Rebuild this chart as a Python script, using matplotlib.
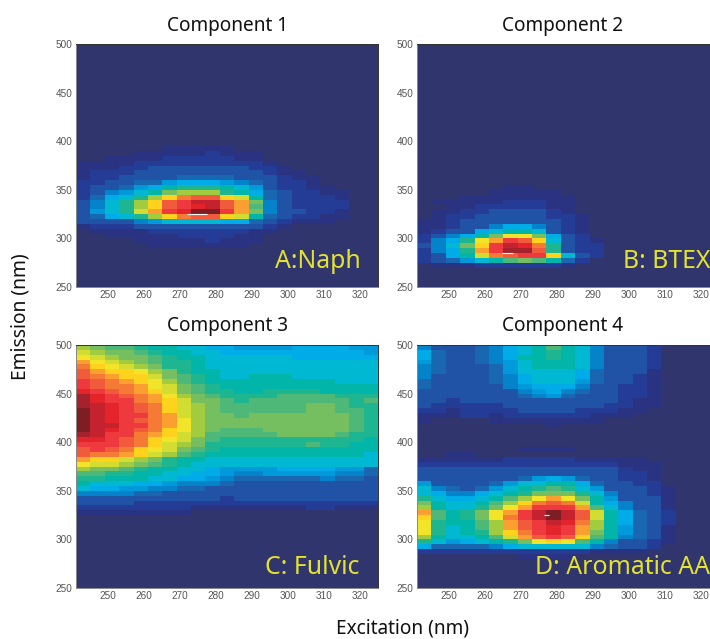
import numpy as np
import matplotlib
matplotlib.use('Agg')
import matplotlib.pyplot as plt
from matplotlib.colors import LinearSegmentedColormap

W = 710
H = 639

# colour levels, lowest to highest
level_colors = ['#30356e', '#2a3382', '#243c96', '#2052a6', '#1a68b2', '#0482ca', '#009ada',
                '#00ade8', '#00b8d2', '#00b6aa', '#1fb590', '#4eb878', '#74be62', '#a3cc40',
                '#d2dc30', '#f0e52a', '#ffd21e', '#fba030', '#f47c36', '#f15a3a', '#ee3a40',
                '#e6242a', '#c4222e', '#a5222c', '#7f1d25']

ex_edges = np.arange(241, 326, 4)
em_edges = np.arange(250, 501, 5)
ticks_x = [250, 260, 270, 280, 290, 300, 310, 320]
ticks_y = [250, 300, 350, 400, 450, 500]

# each list of rows starts at the emission given, rows run upwards, missing cells are background
comp1_start = 290
comp1 = [
    [0, 0, 0, 0, 0, 1, 1, 1, 1, 1, 1, 1],
    [0, 0, 0, 0, 1, 1, 1, 1, 1, 2, 1, 1, 1],
    [0, 0, 1, 1, 1, 1, 1, 2, 2, 2, 2, 1, 1],
    [0, 1, 1, 1, 1, 2, 2, 2, 2, 2, 2, 2, 1, 1],
    [1, 2, 2, 2, 3, 3, 3, 3, 3, 3, 3, 3, 3, 2, 1],
    [3, 3, 3, 3, 5, 6, 8, 8, 8, 8, 7, 7, 4, 3, 2, 1, 1, 1],
    [3, 4, 7, 8, 10, 13, 16, 18, 19, 19, 16, 14, 9, 4, 3, 2, 2, 1, 1],
    [3, 6, 8, 10, 14, 17, 20, 21, 24, 24, 20, 17, 12, 5, 3, 3, 2, 2, 1],
    [3, 5, 8, 10, 13, 16, 19, 20, 21, 22, 19, 17, 11, 5, 3, 2, 2, 2, 2],
    [3, 5, 8, 10, 13, 16, 19, 20, 22, 22, 19, 17, 12, 5, 3, 2, 2, 2, 2],
    [2, 4, 7, 8, 10, 13, 16, 18, 19, 19, 16, 14, 9, 4, 3, 2, 2, 2, 1],
    [2, 3, 5, 6, 8, 9, 12, 13, 13, 13, 10, 9, 7, 4, 3, 2, 2, 1, 1],
    [2, 3, 3, 4, 6, 7, 9, 10, 10, 10, 9, 8, 6, 3, 2, 2, 1, 1],
    [2, 2, 3, 3, 4, 4, 6, 7, 7, 7, 6, 5, 4, 3, 2, 2, 1],
    [1, 2, 2, 3, 3, 3, 3, 4, 4, 4, 4, 3, 3, 3, 2, 1, 1],
    [1, 2, 2, 2, 3, 3, 3, 3, 3, 3, 3, 3, 3, 2, 1, 1],
    [1, 1, 1, 2, 2, 3, 3, 3, 3, 3, 3, 3, 2, 2, 1],
    [1, 1, 1, 1, 2, 2, 2, 2, 2, 2, 2, 2, 2, 1],
    [0, 0, 1, 1, 1, 1, 2, 2, 2, 2, 2, 1, 1],
    [0, 0, 0, 0, 1, 1, 1, 1, 1, 2, 1, 1, 1],
    [0, 0, 0, 0, 0, 0, 1, 1, 1, 1, 1],
]

comp2_start = 270
comp2 = [
    [0, 1, 1, 1, 2, 2, 2, 2, 2, 2, 1],
    [2, 3, 4, 6, 8, 9, 11, 12, 11, 9, 4, 2],
    [2, 3, 7, 9, 14, 18, 19, 20, 20, 16, 8, 3, 2],
    [2, 5, 7, 10, 17, 20, 23, 23, 19, 10, 3, 2, 2],
    [3, 5, 8, 12, 16, 20, 22, 21, 18, 10, 3, 2, 2],
    [2, 5, 7, 10, 15, 17, 20, 19, 16, 8, 3, 2, 1],
    [2, 3, 5, 7, 9, 12, 15, 15, 12, 7, 3, 2],
    [1, 2, 3, 3, 7, 8, 9, 9, 8, 3, 2, 1],
    [1, 1, 2, 3, 3, 5, 7, 7, 5, 3, 2, 1],
    [1, 1, 2, 3, 3, 3, 3, 3, 3, 3, 2, 1],
    [0, 1, 2, 2, 3, 3, 3, 3, 3, 2, 2, 1],
    [0, 1, 1, 2, 2, 3, 3, 3, 3, 2, 1],
    [0, 0, 1, 1, 2, 2, 2, 2, 2, 1, 1],
    [0, 1, 1, 1, 1, 1, 2, 2, 2, 1, 1],
    [0, 0, 0, 1, 1, 1, 1, 1, 1, 1, 1],
    [0, 0, 0, 0, 0, 1, 1, 1, 1, 1],
    [0, 0, 0, 0, 0, 0, 1, 1],
]

comp3_start = 325
comp3 = [
    [1, 1, 1, 1, 1, 1, 1, 1],
    [2, 2, 2, 2, 2, 2, 2, 2, 1, 1, 1, 1, 1, 1, 1, 1, 2, 2, 1, 1, 1],
    [3, 3, 3, 3, 2, 2, 2, 2, 2, 2, 2, 2, 2, 2, 2, 2, 2, 2, 2, 2, 2],
    [3, 3, 3, 3, 3, 3, 3, 3, 3, 3, 2, 3, 3, 3, 3, 3, 3, 3, 3, 3, 3],
    [5, 5, 5, 5, 4, 4, 3, 3, 3, 3, 3, 3, 3, 3, 3, 3, 3, 3, 3, 3, 3],
    [8, 7, 7, 6, 6, 5, 5, 4, 4, 3, 3, 3, 3, 3, 3, 3, 3, 3, 3, 3, 3],
    [9, 8, 8, 8, 7, 7, 6, 5, 5, 5, 4, 3, 3, 3, 3, 3, 3, 3, 3, 3, 3],
    [10, 10, 9, 9, 9, 8, 8, 7, 7, 6, 5, 4, 4, 4, 4, 4, 4, 5, 4, 4, 3],
    [11, 11, 10, 10, 9, 9, 8, 8, 7, 7, 6, 5, 5, 6, 6, 6, 6, 6, 5, 5, 4],
    [13, 12, 12, 11, 10, 9, 9, 8, 8, 7, 6, 6, 6, 6, 7, 7, 7, 7, 6, 6, 4],
    [15, 14, 14, 13, 12, 11, 10, 9, 8, 8, 8, 8, 8, 8, 8, 8, 8, 8, 8, 8, 8],
    [17, 16, 16, 14, 13, 12, 10, 9, 9, 8, 8, 8, 8, 8, 8, 8, 8, 8, 8, 8, 8],
    [19, 18, 18, 17, 16, 14, 13, 11, 10, 9, 9, 9, 9, 9, 9, 9, 9, 9, 9, 9, 8],
    [19, 20, 19, 18, 16, 15, 14, 12, 11, 10, 9, 9, 9, 9, 9, 9, 9, 9, 9, 9, 9],
    [20, 20, 20, 19, 18, 16, 14, 13, 12, 10, 10, 10, 10, 10, 10, 10, 11, 10, 10, 9, 9],
    [21, 21, 20, 19, 18, 16, 15, 14, 12, 11, 10, 10, 10, 10, 10, 10, 10, 10, 10, 10, 9],
    [23, 22, 20, 20, 18, 17, 16, 14, 13, 11, 11, 11, 11, 11, 12, 12, 12, 12, 11, 10, 10],
    [24, 22, 21, 20, 19, 18, 16, 15, 13, 12, 11, 11, 11, 12, 12, 12, 12, 12, 12, 11, 10],
    [24, 22, 22, 20, 20, 18, 17, 15, 13, 12, 12, 12, 12, 12, 12, 12, 12, 12, 12, 11, 10],
    [24, 22, 21, 20, 19, 18, 17, 15, 13, 12, 12, 12, 12, 12, 12, 12, 12, 12, 12, 11, 10],
    [24, 22, 21, 20, 20, 18, 17, 14, 13, 12, 12, 11, 12, 12, 12, 12, 12, 12, 12, 11, 10],
    [24, 22, 21, 20, 19, 18, 16, 14, 13, 12, 11, 11, 11, 11, 11, 11, 12, 12, 11, 11, 10],
    [23, 22, 21, 20, 19, 18, 16, 14, 13, 12, 11, 11, 11, 11, 11, 11, 12, 12, 11, 10, 10],
    [23, 21, 20, 20, 18, 17, 16, 14, 12, 12, 11, 10, 11, 11, 11, 11, 11, 11, 11, 10, 11],
    [23, 21, 20, 19, 18, 17, 15, 13, 12, 11, 10, 10, 10, 10, 11, 11, 11, 11, 10, 10, 10],
    [21, 20, 19, 18, 17, 16, 14, 12, 11, 10, 10, 9, 9, 10, 10, 10, 10, 9, 9, 9, 9],
    [20, 19, 18, 18, 17, 15, 14, 12, 11, 10, 9, 9, 9, 9, 9, 9, 9, 9, 9, 9, 9],
    [20, 19, 18, 17, 16, 15, 13, 11, 10, 9, 9, 9, 9, 9, 9, 9, 9, 9, 8, 8, 8],
    [19, 18, 17, 16, 16, 14, 12, 11, 10, 9, 8, 8, 9, 9, 9, 8, 8, 8, 8, 8, 8],
    [19, 17, 16, 16, 15, 13, 12, 10, 9, 9, 8, 8, 8, 8, 8, 8, 8, 8, 8, 8, 8],
    [18, 16, 15, 14, 13, 12, 10, 10, 9, 8, 8, 8, 8, 8, 8, 8, 8, 8, 8, 8, 8],
    [17, 15, 14, 13, 12, 11, 10, 10, 9, 8, 8, 8, 8, 8, 8, 8, 8, 8, 8, 8, 8],
    [15, 14, 13, 12, 12, 11, 10, 9, 9, 8, 8, 8, 8, 8, 8, 7, 7, 7, 7, 7, 7],
    [14, 13, 12, 12, 11, 10, 9, 9, 8, 8, 7, 7, 7, 7, 7, 7, 7, 7, 7, 7, 6],
    [13, 12, 11, 11, 10, 9, 9, 8, 8, 7, 7, 6, 6, 6, 6, 7, 7, 7, 7, 6, 6],
]

comp4_start = 280
comp4 = [
    [0, 0, 0, 0, 0, 0, 0, 1, 1, 1, 1],
    [2, 2, 2, 2, 2, 2, 2, 2, 2, 2, 2, 2, 1, 1, 1, 1],
    [7, 4, 4, 4, 4, 5, 7, 8, 8, 8, 8, 8, 5, 4, 3, 3, 2],
    [10, 8, 6, 7, 8, 9, 10, 12, 15, 16, 15, 11, 9, 5, 3, 3, 2, 1],
    [13, 9, 8, 8, 9, 11, 14, 17, 19, 20, 19, 16, 11, 9, 5, 4, 3, 1],
    [15, 10, 8, 9, 10, 13, 16, 18, 20, 21, 20, 17, 12, 9, 6, 4, 3, 1],
    [15, 10, 8, 9, 11, 13, 17, 19, 20, 21, 20, 17, 13, 9, 6, 4, 3, 1],
    [15, 10, 9, 9, 11, 13, 17, 19, 20, 22, 21, 18, 13, 9, 7, 4, 3, 2],
    [16, 11, 9, 10, 12, 15, 18, 20, 22, 24, 22, 19, 14, 9, 7, 4, 3, 2],
    [17, 11, 9, 10, 12, 15, 17, 20, 22, 24, 22, 19, 14, 9, 7, 4, 3, 2],
    [13, 9, 8, 8, 10, 12, 15, 17, 20, 20, 20, 17, 11, 8, 5, 3, 3, 1],
    [12, 9, 8, 8, 9, 11, 13, 16, 18, 19, 18, 14, 9, 7, 5, 3, 3, 1],
    [10, 8, 7, 7, 8, 9, 11, 13, 15, 17, 15, 12, 9, 6, 3, 3, 3, 1],
    [8, 7, 5, 5, 7, 8, 9, 10, 12, 12, 12, 10, 8, 5, 3, 3, 2, 1],
    [8, 5, 4, 3, 4, 6, 8, 9, 10, 11, 10, 8, 6, 3, 3, 3, 2, 1],
    [6, 3, 3, 3, 3, 4, 6, 8, 8, 9, 9, 7, 4, 3, 3, 2, 2],
    [3, 3, 3, 3, 3, 3, 3, 4, 6, 7, 6, 4, 3, 3, 2, 2, 1],
    [3, 3, 3, 3, 3, 3, 3, 3, 3, 3, 3, 3, 3, 3, 2, 2, 1],
    [3, 3, 3, 3, 3, 3, 3, 3, 3, 3, 3, 3, 3, 3, 2, 1, 1],
    [2, 2, 2, 2, 2, 2, 2, 2, 2, 2, 2, 2, 2, 2, 1, 1, 1],
    [1, 1, 1, 1, 1, 1, 2, 2, 2, 2, 2, 1, 1, 1, 1, 1],
    [0, 0, 1, 1],
    [0, 0, 0, 0, 0, 0, 0, 1, 1, 1, 1],
    [],
    [],
    [],
    [],
    [0, 0, 0, 0, 0, 0, 0, 0, 0, 1],
    [1, 0, 0, 0, 0, 1, 1, 1, 1, 1, 1, 1, 1],
    [1, 1, 1, 2, 2, 1, 2, 2, 2, 2, 2, 2, 1, 1, 1],
    [2, 2, 1, 2, 2, 2, 2, 3, 3, 3, 3, 2, 2, 2, 1, 1],
    [3, 2, 2, 2, 2, 2, 3, 3, 3, 3, 3, 3, 3, 2, 2, 1, 1],
    [3, 3, 2, 3, 3, 3, 3, 3, 3, 3, 3, 3, 3, 3, 2, 1, 1],
    [3, 3, 3, 3, 3, 3, 3, 4, 5, 6, 4, 3, 3, 3, 2, 2, 1],
    [3, 3, 3, 3, 3, 3, 3, 5, 6, 7, 5, 4, 3, 3, 2, 2, 1],
    [4, 3, 3, 3, 3, 3, 5, 6, 7, 7, 7, 5, 3, 3, 2, 2, 1],
    [4, 3, 3, 3, 3, 4, 5, 7, 8, 8, 8, 6, 4, 3, 3, 2, 1],
    [5, 3, 3, 3, 3, 4, 5, 7, 8, 8, 8, 7, 4, 3, 3, 2, 1],
    [5, 4, 3, 3, 3, 4, 6, 8, 8, 8, 8, 7, 4, 3, 3, 3, 1],
    [5, 4, 3, 3, 3, 4, 6, 8, 9, 9, 9, 8, 5, 3, 3, 3, 2],
    [6, 4, 3, 3, 4, 5, 6, 8, 9, 9, 9, 8, 5, 3, 3, 3, 2],
    [7, 4, 3, 3, 4, 5, 7, 9, 9, 10, 9, 8, 5, 3, 3, 3, 2],
    [7, 4, 3, 3, 4, 5, 7, 8, 9, 10, 9, 8, 5, 3, 3, 3, 2],
    [5, 3, 3, 3, 4, 5, 7, 8, 9, 11, 9, 8, 5, 3, 3, 3, 2],
]

# small white marks at the peaks
speck1_ex = [272, 277.5]
speck1_em = [325.4, 325.4]
speck2_ex = [264.6, 267.8]
speck2_em = [285.3, 285.3]
speck4_ex = [276.3, 277.8]
speck4_em = [325.1, 325.1]

cmap = LinearSegmentedColormap.from_list('eem', level_colors, N=256)


def to_grid(rows, start):
    grid = np.zeros((len(em_edges) - 1, len(ex_edges) - 1))
    first = (start - 250) // 5
    for i, row in enumerate(rows):
        grid[first + i, :len(row)] = row
    return grid


def add_panel(fig, left, top, rows, start, speck_ex, speck_em):
    ax = fig.add_axes([left / W, 1 - (top + 243) / H, 302 / W, 243 / H])
    ax.pcolormesh(ex_edges, em_edges, to_grid(rows, start), cmap=cmap, vmin=0, vmax=24)
    if speck_ex:
        ax.plot(speck_ex, speck_em, color='white', lw=0.8, solid_capstyle='butt')
    ax.set_xlim(241, 325)
    ax.set_ylim(250, 500)
    ax.set_xticks(ticks_x)
    ax.set_yticks(ticks_y)
    ax.tick_params(length=0, labelsize=7.2, labelcolor='#555555', pad=2.5)
    for lab in ax.get_xticklabels() + ax.get_yticklabels():
        lab.set_fontfamily('Liberation Sans')
    for s in ['left', 'bottom']:
        ax.spines[s].set_color('#888888')
        ax.spines[s].set_linewidth(0.7)
    for s in ['top', 'right']:
        ax.spines[s].set_color('#333333')
        ax.spines[s].set_linewidth(0.7)
    return ax


def label(fig, x, y, txt, **kw):
    fig.text(x / W, 1 - y / H, txt, family='Noto Sans', **kw)


fig = plt.figure(figsize=(W / 100, H / 100), dpi=100)

add_panel(fig, 76, 44, comp1, comp1_start, speck1_ex, speck1_em)
add_panel(fig, 417, 44, comp2, comp2_start, speck2_ex, speck2_em)
add_panel(fig, 76, 345, comp3, comp3_start, [], [])
add_panel(fig, 417, 345, comp4, comp4_start, speck4_ex, speck4_em)

for x, y, t in [(228, 26, 'Component 1'), (563, 26, 'Component 2'),
                (228, 326, 'Component 3'), (563, 326, 'Component 4')]:
    label(fig, x, y, t, fontsize=13.7, ha='center', va='center', color='#111111')

for x, y, t in [(275, 262, 'A:Naph'), (623, 262, 'B: BTEX'),
                (265, 568, 'C: Fulvic'), (535, 568, 'D: Aromatic AA')]:
    label(fig, x, y, t, fontsize=17.9, ha='left', va='center', color='#e3e22e')

label(fig, 21, 317, 'Emission (nm)', fontsize=13.8, rotation=90, ha='center', va='center', color='#111111')
label(fig, 402, 628.5, 'Excitation (nm)', fontsize=13.7, ha='center', va='center', color='#111111')

fig.savefig('out.png', dpi=100)
